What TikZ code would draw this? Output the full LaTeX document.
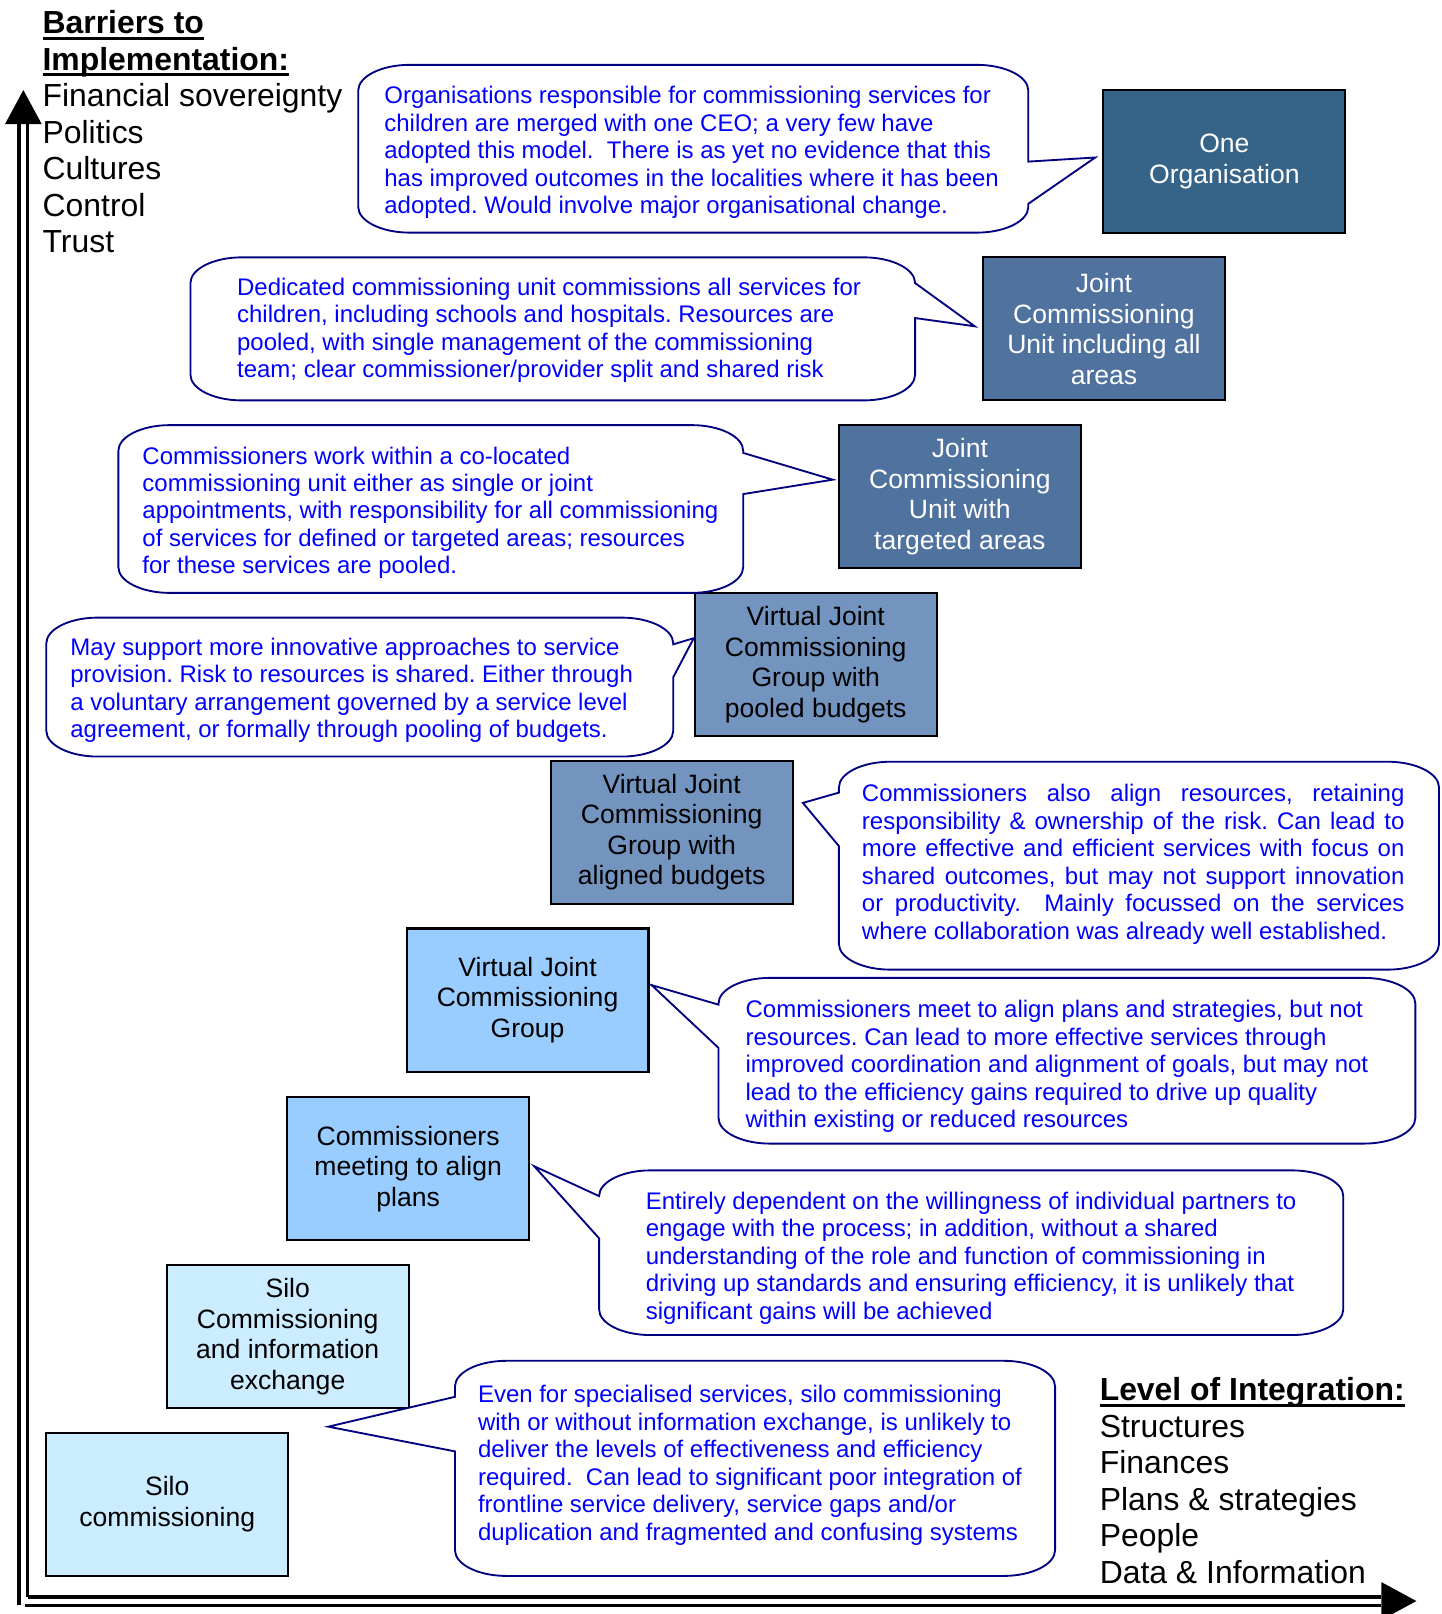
\documentclass[tikz,border=0pt]{standalone}
\usepackage{fontspec}
\setmainfont{Liberation Sans}
\usepackage{tikz}
\usetikzlibrary{calc}
\frenchspacing
\definecolor{OrgBlue}{HTML}{366489}
\definecolor{UnitBlue}{HTML}{4F729E}
\definecolor{GroupBlue}{HTML}{7394BE}
\definecolor{SkyBlue}{HTML}{99CCFF}
\definecolor{PaleBlue}{HTML}{CCECFF}
\definecolor{NoteLine}{HTML}{000080}
\tikzstyle{level} = [rectangle, draw=black, line width=1pt, minimum width=117.5pt,
minimum height=69.5pt, align=center, font=\fontsize{12.9pt}{14.85pt}\selectfont]
\tikzstyle{notetext} = [anchor=north west, inner sep=0pt, align=left, text=blue,
font=\fontsize{11.65pt}{13.35pt}\selectfont]
\tikzstyle{note} = [draw=NoteLine, line width=0.9pt, fill=white]
\tikzstyle{axistext} = [anchor=north west, inner sep=0pt, align=left,
font=\fontsize{15.5pt}{17.75pt}\selectfont]
\tikzstyle{axisline} = [line width=1.5pt, black]
% underline at a fixed depth
\newcommand{\ulbar}[1]{\setbox0\hbox{#1}\rlap{\rule[-3pt]{\wd0}{1.5pt}}\box0}
% corner radii of the callouts
\newcommand{\calR}{50}
\newcommand{\calS}{25}
% callout, tail on the right: left, top, right, bottom, tail y1, tail y2, tip
\newcommand{\noteright}[7]{%
  \draw[note] ({#1+\calR},#2) -- ({#3-\calR},#2)
    .. controls ({#3-0.45*\calR},#2) and (#3,{#2+0.45*\calS}) .. (#3,{#2+\calS})
    -- (#3,#5) -- (#7) -- (#3,#6) -- (#3,{#4-\calS})
    .. controls (#3,{#4-0.45*\calS}) and ({#3-0.45*\calR},#4) .. ({#3-\calR},#4)
    -- ({#1+\calR},#4)
    .. controls ({#1+0.45*\calR},#4) and (#1,{#4-0.45*\calS}) .. (#1,{#4-\calS})
    -- (#1,{#2+\calS})
    .. controls (#1,{#2+0.45*\calS}) and ({#1+0.45*\calR},#2) .. ({#1+\calR},#2)
    -- cycle;}
% callout, tail on the left
\newcommand{\noteleft}[7]{%
  \draw[note] ({#1+\calR},#2) -- ({#3-\calR},#2)
    .. controls ({#3-0.45*\calR},#2) and (#3,{#2+0.45*\calS}) .. (#3,{#2+\calS})
    -- (#3,{#4-\calS})
    .. controls (#3,{#4-0.45*\calS}) and ({#3-0.45*\calR},#4) .. ({#3-\calR},#4)
    -- ({#1+\calR},#4)
    .. controls ({#1+0.45*\calR},#4) and (#1,{#4-0.45*\calS}) .. (#1,{#4-\calS})
    -- (#1,#6) -- (#7) -- (#1,#5) -- (#1,{#2+\calS})
    .. controls (#1,{#2+0.45*\calS}) and ({#1+0.45*\calR},#2) .. ({#1+\calR},#2)
    -- cycle;}

\begin{document}
\begin{tikzpicture}[x=0.5pt,y=-0.5pt]
  \useasboundingbox (0,0) rectangle (1400,1568);

  % axes
  \coordinate (origin) at (22.7,1555.4);
  \coordinate (ytip) at (22.7,87.5);
  \coordinate (xtip) at (1376,1555.4);
  \draw[axisline] ($(origin)+(-4.2,4)$) -- ($(ytip)+(-4.2,33)$);
  \draw[axisline] ($(origin)+(4.2,-3.9)$) -- ($(ytip)+(4.2,33)$);
  \draw[axisline] ($(origin)+(4.2,-3.9)$) -- ($(xtip)+(-34,-3.9)$);
  \draw[axisline] ($(origin)+(1.5,3.9)$) -- ($(xtip)+(-34,3.9)$);
  \fill (ytip) -- ++(17.8,33) -- ++(-35.6,0) -- cycle;
  \fill (xtip) -- ++(-34,-18.4) -- ++(0,36.8) -- cycle;

  % levels
  \node[level,fill=OrgBlue,text=white] (org) at (1189.5,157) {One\\Organisation};
  \node[level,fill=UnitBlue,text=white] (jcuall) at (1072.5,319.5)
    {Joint\\Commissioning\\Unit including all\\areas};
  \node[level,fill=UnitBlue,text=white] (jcutarget) at (932.5,482.5)
    {Joint\\Commissioning\\Unit with\\targeted areas};
  \node[level,fill=GroupBlue] (vjcgpooled) at (792.5,645.5)
    {Virtual Joint\\Commissioning\\Group with\\pooled budgets};
  \node[level,fill=GroupBlue] (vjcgaligned) at (652.5,808.5)
    {Virtual Joint\\Commissioning\\Group with\\aligned budgets};
  \node[level,fill=SkyBlue] (vjcg) at (512.5,971.5)
    {Virtual Joint\\Commissioning\\Group};
  \node[level,fill=SkyBlue] (meeting) at (396.5,1135.5)
    {Commissioners\\meeting to align\\plans};
  \node[level,fill=PaleBlue] (siloinfo) at (279.5,1298.5)
    {Silo\\Commissioning\\and information\\exchange};
  \node[level,fill=PaleBlue] (silo) at (162.5,1461.5) {Silo\\commissioning};

  % tips of the callouts
  \coordinate (orgtip) at ($(org.west)+(-7,-4)$);
  \coordinate (jcualltip) at ($(jcuall.west)+(-7,-2.5)$);
  \coordinate (jcutargettip) at ($(jcutarget.west)+(-5,-16.5)$);
  \coordinate (vjcgpooledtip) at ($(vjcgpooled.west)+(0,-25.5)$);
  \coordinate (vjcgalignedtip) at ($(vjcgaligned.east)+(9,-28.5)$);
  \coordinate (vjcgtip) at ($(vjcg.east)+(2,-14.5)$);
  \coordinate (meetingtip) at ($(meeting.east)+(4,-2.5)$);
  \coordinate (silotip) at ($(silo.north east)+(38,-5)$);

  % callouts
  \noteright{348}{63}{999}{226}{157}{198}{orgtip}
  \noteright{185}{250}{889}{389}{275}{309}{jcualltip}
  \noteright{115}{413}{722}{576}{440}{480}{jcutargettip}
  \noteright{45}{600}{654}{735}{626}{658}{vjcgpooledtip}
  \noteleft{815}{740}{1398}{942}{770}{822}{vjcgalignedtip}
  \noteleft{698}{950}{1375}{1111}{976}{1018}{vjcgtip}
  \noteleft{582}{1137}{1305}{1297}{1162}{1203}{meetingtip}
  \noteleft{442}{1322}{1025}{1531}{1357}{1410}{silotip}

  \node[notetext] (orgtext) at (373,83.5)
    {Organisations responsible for commissioning services for\\
     children are merged with one CEO; a very few have\\
     adopted this model.\ \ There is as yet no evidence that this\\
     has improved outcomes in the localities where it has been\\
     adopted. Would involve major organisational change.};
  \node[notetext] (jcualltext) at (230,269.5)
    {Dedicated commissioning unit commissions all services for\\
     children, including schools and hospitals. Resources are\\
     pooled, with single management of the commissioning\\
     team; clear commissioner/provider split and shared risk};
  \node[notetext] (jcutargettext) at (138,433.5)
    {Commissioners work within a co-located\\
     commissioning unit either as single or joint\\
     appointments, with responsibility for all commissioning\\
     of services for defined or targeted areas; resources\\
     for these services are pooled.};
  \node[notetext] (vjcgpooledtext) at (68,619.5)
    {May support more innovative approaches to service\\
     provision. Risk to resources is shared. Either through\\
     a voluntary arrangement governed by a service level\\
     agreement, or formally through pooling of budgets.};
  \node[notetext] (vjcgalignedtext) at (837,761.5)
    {\makebox[263.5pt][s]{Commissioners also align resources, retaining}\\
     \makebox[263.5pt][s]{responsibility \& ownership of the risk. Can lead to}\\
     \makebox[263.5pt][s]{more effective and efficient services with focus on}\\
     \makebox[263.5pt][s]{shared outcomes, but may not support innovation}\\
     \makebox[263.5pt][s]{or productivity.\ \ Mainly focussed on the services}\\
     where collaboration was already well established.};
  \node[notetext] (vjcgtext) at (724,971.5)
    {Commissioners meet to align plans and strategies, but not\\
     resources. Can lead to more effective services through\\
     improved coordination and alignment of goals, but may not\\
     lead to the efficiency gains required to drive up quality\\
     within existing or reduced resources};
  \node[notetext] (meetingtext) at (627,1157.5)
    {Entirely dependent on the willingness of individual partners to\\
     engage with the process; in addition, without a shared\\
     understanding of the role and function of commissioning in\\
     driving up standards and ensuring efficiency, it is unlikely that\\
     significant gains will be achieved};
  \node[notetext] (silotext) at (464,1345.5)
    {Even for specialised services, silo commissioning\\
     with or without information exchange, is unlikely to\\
     deliver the levels of effectiveness and efficiency\\
     required.\ \ Can lead to significant poor integration of\\
     frontline service delivery, service gaps and/or\\
     duplication and fragmented and confusing systems};

  % axis titles
  \node[axistext] (barriers) at (41,9.7)
    {\ulbar{\textbf{Barriers to}}\\\ulbar{\textbf{Implementation:}}\\
     Financial sovereignty\\Politics\\Cultures\\Control\\Trust};
  \node[axistext] (integration) at (1068,1337.7)
    {\ulbar{\textbf{Level of Integration:}}\\Structures\\Finances\\
     Plans \& strategies\\People\\Data \& Information};
\end{tikzpicture}
\end{document}
